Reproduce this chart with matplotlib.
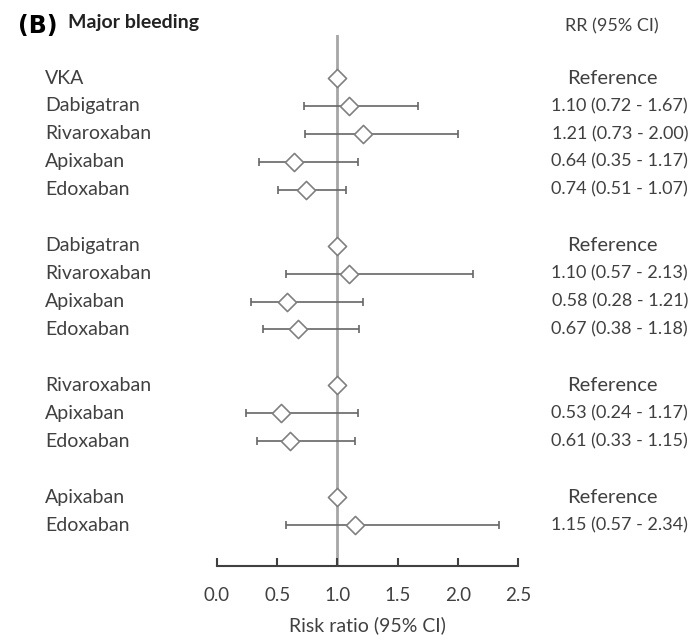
import numpy as np
import matplotlib.pyplot as plt
from matplotlib.transforms import blended_transform_factory

plt.rcParams['font.family'] = ['Lato', 'DejaVu Sans']

# 各组对照药物与估计值
drugs = ['VKA', 'Dabigatran', 'Rivaroxaban', 'Apixaban', 'Edoxaban',
         'Dabigatran', 'Rivaroxaban', 'Apixaban', 'Edoxaban',
         'Rivaroxaban', 'Apixaban', 'Edoxaban',
         'Apixaban', 'Edoxaban']
rr = [1.00, 1.10, 1.21, 0.64, 0.74,
      1.00, 1.10, 0.58, 0.67,
      1.00, 0.53, 0.61,
      1.00, 1.15]
lo = [np.nan, 0.72, 0.73, 0.35, 0.51,
      np.nan, 0.57, 0.28, 0.38,
      np.nan, 0.24, 0.33,
      np.nan, 0.57]
hi = [np.nan, 1.67, 2.00, 1.17, 1.07,
      np.nan, 2.13, 1.21, 1.18,
      np.nan, 1.17, 1.15,
      np.nan, 2.34]
# 行号（组间空一行）
rows = [0, 1, 2, 3, 4, 6, 7, 8, 9, 11, 12, 13, 15, 16]
xticks = [0.0, 0.5, 1.0, 1.5, 2.0, 2.5]

W, H = 694, 640
fig = plt.figure(figsize=(W / 100, H / 100), dpi=100)
ax = fig.add_axes([217 / W, (H - 566) / H, 301 / W, (566 - 35) / H])
ax.set_xlim(0, 2.5)
ax.set_ylim((566 - 78) / 27.94, (35 - 78) / 27.94)

# 参考线
ax.axvline(1.0, color='#a6a6a6', lw=2, zorder=1)

rr = np.array(rr)
lo = np.array(lo)
hi = np.array(hi)
rows = np.array(rows)
has_ci = ~np.isnan(lo)
ax.errorbar(rr[has_ci], rows[has_ci],
            xerr=[rr[has_ci] - lo[has_ci], hi[has_ci] - rr[has_ci]],
            fmt='none', ecolor='#666666', elinewidth=1.2, capsize=2.6,
            capthick=1.2, zorder=2)
ax.scatter(rr, rows, marker='D', s=85, facecolor='white',
           edgecolor='#808080', linewidth=1.2, zorder=3)

# 坐标轴样式
for s in ['top', 'left', 'right']:
    ax.spines[s].set_visible(False)
ax.spines['bottom'].set_color('#404040')
ax.spines['bottom'].set_linewidth(1.5)
ax.set_yticks([])
ax.set_xticks(xticks)
ax.set_xticklabels([f'{t:.1f}' for t in xticks])
ax.tick_params(axis='x', direction='in', length=6, width=1.5,
               colors='#404040', labelsize=13.5, pad=15)
ax.set_xlabel('Risk ratio (95% CI)', fontsize=14, color='#404040', labelpad=9)

# 左右两列文字
tr = blended_transform_factory(fig.transFigure, ax.transData)
for d, y, r, l, h in zip(drugs, rows, rr, lo, hi):
    ax.text(45 / W, y, d, transform=tr, ha='left', va='center',
            fontsize=14, color='#404040', clip_on=False)
    if np.isnan(l):
        ax.text(612 / W, y, 'Reference', transform=tr, ha='center',
                va='center', fontsize=14.5, color='#404040', clip_on=False)
    else:
        ax.text(688 / W, y, f'{r:.2f} ({l:.2f} - {h:.2f})', transform=tr,
                ha='right', va='center', fontsize=13, color='#404040',
                clip_on=False)

fig.text(612 / W, 1 - 26 / H, 'RR (95% CI)', ha='center', va='center',
         fontsize=13, color='#404040')
fig.text(18 / W, 1 - 33 / H, '(B)', ha='left', va='baseline',
         fontsize=17, fontweight='bold', color='black', family='DejaVu Sans')
fig.text(68 / W, 1 - 28 / H, 'Major bleeding', ha='left', va='baseline',
         fontsize=14, fontweight='bold', color='#222222')

fig.savefig('out.png', dpi=100)
